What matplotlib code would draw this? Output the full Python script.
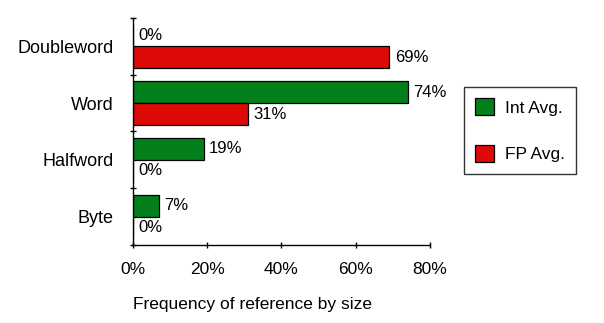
import numpy as np
import matplotlib
matplotlib.use("Agg")
import matplotlib.pyplot as plt

# reference sizes, listed top to bottom
sizes = ['Doubleword', 'Word', 'Halfword', 'Byte']
int_avg = [0, 74, 19, 7]
fp_avg = [69, 31, 0, 0]
xticks = [0, 20, 40, 60, 80]

plt.rcParams['font.family'] = ['Liberation Sans', 'DejaVu Sans']
plt.rcParams['font.size'] = 12.5

fig = plt.figure(figsize=(6.04, 3.23), dpi=100)
ax = fig.add_axes([0.2202, 0.2415, 0.4917, 0.7028])

n = len(sizes)
pos = np.arange(n)[::-1]  # first category on top
h = 0.385
green = '#037F1B'
red = '#DD0A08'

b_int = ax.barh(pos + h / 2, int_avg, height=h, color=green, edgecolor='black', linewidth=0.9, label='Int Avg.')
b_fp = ax.barh(pos - h / 2, fp_avg, height=h, color=red, edgecolor='black', linewidth=0.9, label='FP Avg.')

for bars, vals in [(b_int, int_avg), (b_fp, fp_avg)]:
    for b, v in zip(bars, vals):
        ax.annotate('%d%%' % v, (v, b.get_y() + b.get_height() / 2),
                    xytext=(4, 0), textcoords='offset points',
                    ha='left', va='center', fontsize=12)

ax.set_xlim(0, 80)
ax.set_ylim(-0.5, n - 0.5)
ax.set_xticks(xticks)
ax.set_xticklabels(['%d%%' % t for t in xticks])

# ticks sit on the group boundaries, labels at the group centres
ax.set_yticks(np.arange(-0.5, n, 1.0))
ax.set_yticklabels([])
ax.set_yticks(pos, minor=True)
ax.set_yticklabels(sizes, minor=True, fontsize=13)
ax.tick_params(axis='y', which='minor', length=0, pad=14)
ax.tick_params(axis='y', which='major', direction='inout', length=5, width=1)
ax.tick_params(axis='x', direction='inout', length=5, width=1, pad=10)

for s in ['top', 'right']:
    ax.spines[s].set_visible(False)
for s in ['left', 'bottom']:
    ax.spines[s].set_linewidth(1)

ax.set_xlabel('Frequency of reference by size', loc='left', labelpad=14)

leg = fig.legend(loc='upper left', bbox_to_anchor=(464 / 604, 1 - 87 / 323),
                 borderaxespad=0, frameon=True, fancybox=False, edgecolor='black',
                 handlelength=1.1, handleheight=1.1, labelspacing=1.7,
                 borderpad=0.65, handletextpad=0.6, fontsize=12.5)
leg.get_frame().set_linewidth(1)

fig.savefig('out.png', dpi=100)
